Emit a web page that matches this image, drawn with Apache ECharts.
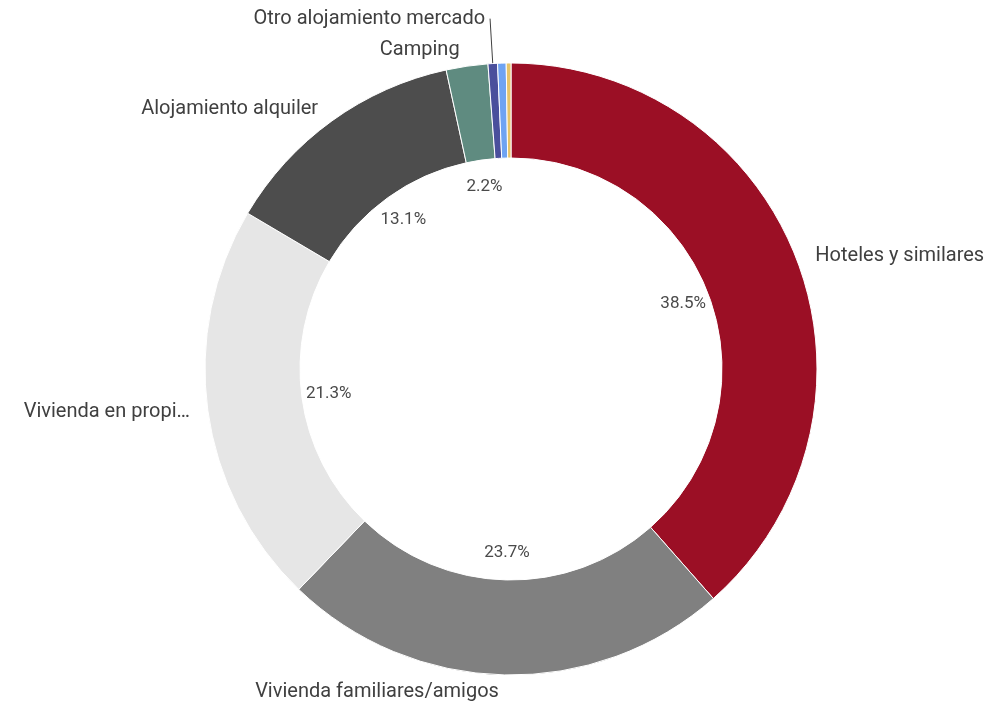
<!DOCTYPE html>
<html>
<head>
<meta charset="utf-8">
<script src="https://cdn.jsdelivr.net/npm/echarts@6/dist/echarts.min.js"></script>
<style>
  html, body { margin: 0; padding: 0; background: #fff; }
  #chart { width: 993px; height: 708px; }
</style>
</head>
<body>
<div id="chart"></div>
<script>
var categories = ['Hoteles y similares', 'Vivienda familiares/amigos', 'Vivienda en propi…',
    'Alojamiento alquiler', 'Camping', 'Otro alojamiento mercado', 'Otro alojamiento', 'No consta'];
var values = [38.5, 23.7, 21.3, 13.1, 2.2, 0.5, 0.45, 0.25];
var colors = ['#9b0f25', '#808080', '#e6e6e6', '#4d4d4d', '#5f8b80', '#4a4f9c', '#6fa3f2', '#e6c46a'];
var showPct = [true, true, true, true, true, false, false, false];
// small per-label nudges so the names sit where the original tool put them
var labelGap = [14, 17, 13, 15, 16, 45, 0, 0];

var chart = echarts.init(document.getElementById('chart'));

var outerData = values.map(function (v, i) {
    var item = {
        name: categories[i],
        value: v,
        itemStyle: { color: colors[i] },
        labelLine: { show: false, length: labelGap[i], length2: 0 }
    };
    if (i >= 6) {
        item.label = { show: false };
    }
    if (i === 5) {
        item.labelLine = { show: true, length: labelGap[i], length2: 0, lineStyle: { color: '#404040', width: 1 } };
    }
    return item;
});

var innerData = values.map(function (v, i) {
    return {
        name: categories[i],
        value: v,
        label: { show: showPct[i] }
    };
});

var option = {
    animation: false,
    series: [{
        type: 'pie',
        center: [511, 369],
        radius: [211, 306],
        startAngle: 90,
        clockwise: true,
        avoidLabelOverlap: false,
        itemStyle: { borderColor: '#fff', borderWidth: 1 },
        label: {
            show: true,
            position: 'outside',
            alignTo: 'none',
            color: '#404040',
            fontFamily: 'Roboto',
            fontSize: 20,
            formatter: '{b}'
        },
        labelLine: { show: false },
        data: outerData
    }, {
        type: 'pie',
        center: [511, 369],
        radius: [151, 211],
        startAngle: 90,
        clockwise: true,
        silent: true,
        itemStyle: { color: 'rgba(0,0,0,0)' },
        label: {
            show: true,
            position: 'inside',
            color: '#4a4a4a',
            fontFamily: 'Roboto',
            fontSize: 17,
            formatter: function (p) { return p.value.toFixed(1) + '%'; }
        },
        labelLine: { show: false },
        data: innerData
    }]
};
chart.setOption(option);
</script>
</body>
</html>
